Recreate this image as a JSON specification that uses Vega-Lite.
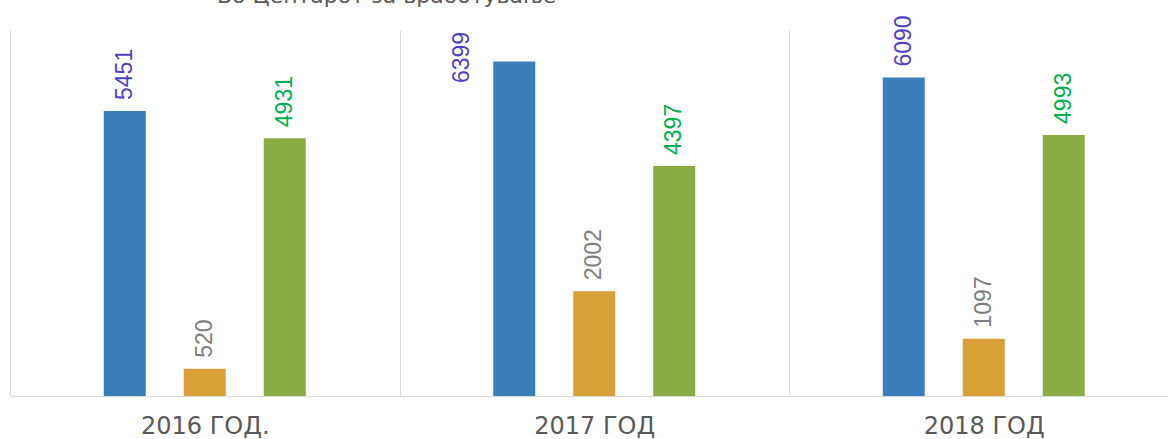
{
  "$schema": "https://vega.github.io/schema/vega-lite/v6.json",
  "width": 1168.5,
  "height": 366,
  "autosize": {"type": "none"},
  "padding": {"left": 10, "top": 30, "right": 0, "bottom": 43},
  "background": "white",
  "title": {"text": "Во Центарот за вработување", "anchor": "start", "frame": "group", "dx": 207, "dy": 10, "offset": 0, "baseline": "alphabetic", "fontSize": 22, "font": "DejaVu Sans", "fontWeight": "normal", "color": "#595959"},
  "config": {"view": {"stroke": null}},
  "data": {"values": [
    {"year": "2016 ГОД.", "series": "Серија 1", "value": 5451},
    {"year": "2016 ГОД.", "series": "Серија 2", "value": 520},
    {"year": "2016 ГОД.", "series": "Серија 3", "value": 4931},
    {"year": "2017 ГОД", "series": "Серија 1", "value": 6399},
    {"year": "2017 ГОД", "series": "Серија 2", "value": 2002},
    {"year": "2017 ГОД", "series": "Серија 3", "value": 4397},
    {"year": "2018 ГОД", "series": "Серија 1", "value": 6090},
    {"year": "2018 ГОД", "series": "Серија 2", "value": 1097},
    {"year": "2018 ГОД", "series": "Серија 3", "value": 4993}
  ]},
  "encoding": {
    "x": {"field": "year", "type": "nominal", "sort": null, "scale": {"paddingInner": 0, "paddingOuter": 0},
      "axis": {"title": null, "labelAngle": 0, "grid": true, "gridColor": "#d9d9d9", "tickBand": "extent", "ticks": false, "domainColor": "#d9d9d9", "labelFontSize": 24, "labelColor": "#595959", "labelPadding": 18, "labelFont": "DejaVu Sans"}},
    "xOffset": {"field": "series", "type": "nominal", "sort": null, "scale": {"paddingInner": 0.131, "paddingOuter": 1}},
    "y": {"field": "value", "type": "quantitative", "scale": {"domain": [0, 7000]}, "axis": null}
  },
  "layer": [
    {"mark": {"type": "bar", "width": 42},
     "encoding": {"color": {"field": "series", "type": "nominal", "sort": null, "scale": {"range": ["#3a7fba", "#d99f38", "#8bab43"]}, "legend": null}}},
    {"transform": [{"filter": "datum.value != 6399"}],
     "mark": {"type": "text", "angle": -90, "align": "left", "baseline": "middle", "dx": 11, "fontSize": 23, "font": "Liberation Sans"},
     "encoding": {"text": {"field": "value", "type": "quantitative"},
       "color": {"field": "series", "type": "nominal", "sort": null, "scale": {"range": ["#4f3fc2", "#7f7f7f", "#00b050"]}, "legend": null}}},
    {"transform": [{"filter": "datum.value == 6399"}],
     "mark": {"type": "text", "angle": -90, "align": "center", "baseline": "middle", "dx": 4, "dy": -52, "fontSize": 23, "font": "Liberation Sans", "color": "#4f3fc2"},
     "encoding": {"text": {"field": "value", "type": "quantitative"}}}
  ],
  "resolve": {"scale": {"color": "independent"}}
}
